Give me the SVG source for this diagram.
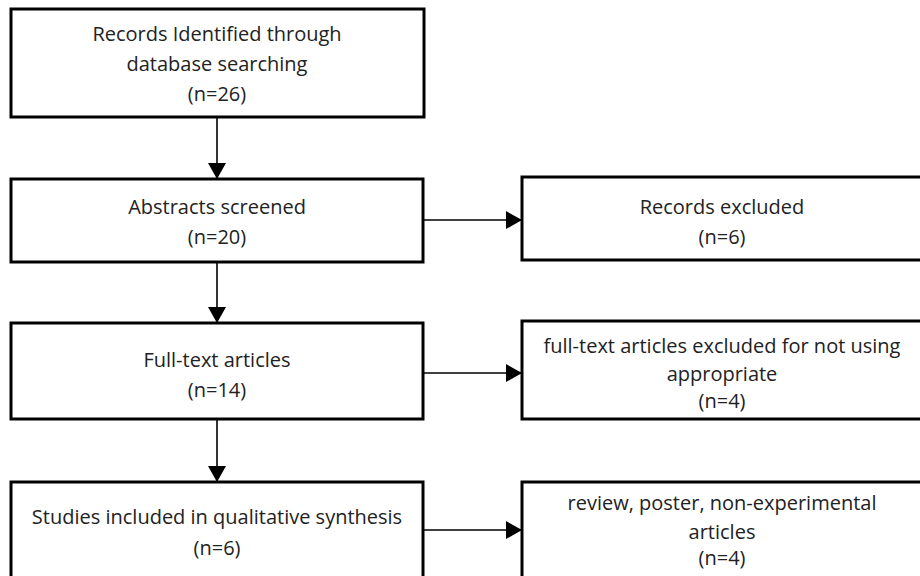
<svg xmlns="http://www.w3.org/2000/svg" width="920" height="576" viewBox="0 0 920 576">
  <style>
    .box { fill: #ffffff; stroke: #000000; stroke-width: 3; }
    .lbl { font-family: "Open Sans", "Liberation Sans", sans-serif; font-size: 20px; fill: #222222; text-anchor: middle; }
    .conn { stroke: #000000; stroke-width: 1.6; fill: none; }
  </style>
  <defs>
    <marker id="arr" markerUnits="userSpaceOnUse" markerWidth="17" markerHeight="18" refX="16" refY="9" orient="auto">
      <path d="M0,0 L16,9 L0,18 Z" fill="#000000"/>
    </marker>
  </defs>
  <rect width="920" height="576" fill="#ffffff"/>

  <g id="n1">
    <rect class="box" x="11" y="9" width="413" height="108"/>
    <text class="lbl" x="217" y="41">Records Identified through</text>
    <text class="lbl" x="217" y="71">database searching</text>
    <text class="lbl" x="217" y="101">(n=26)</text>
  </g>
  <g id="n2">
    <rect class="box" x="11" y="179" width="412" height="83"/>
    <text class="lbl" x="217" y="214">Abstracts screened</text>
    <text class="lbl" x="217" y="244">(n=20)</text>
  </g>
  <g id="n3">
    <rect class="box" x="522" y="177" width="402" height="83"/>
    <text class="lbl" x="722" y="214">Records excluded</text>
    <text class="lbl" x="722" y="244">(n=6)</text>
  </g>
  <g id="n4">
    <rect class="box" x="11" y="323" width="412" height="96"/>
    <text class="lbl" x="217" y="367">Full-text articles</text>
    <text class="lbl" x="217" y="397">(n=14)</text>
  </g>
  <g id="n5">
    <rect class="box" x="522" y="321" width="402" height="98"/>
    <text class="lbl" x="722" y="353">full-text articles excluded for not using</text>
    <text class="lbl" x="722" y="381">appropriate</text>
    <text class="lbl" x="722" y="408">(n=4)</text>
  </g>
  <g id="n6">
    <rect class="box" x="11" y="482" width="412" height="110"/>
    <text class="lbl" x="217" y="524">Studies included in qualitative synthesis</text>
    <text class="lbl" x="217" y="555">(n=6)</text>
  </g>
  <g id="n7">
    <rect class="box" x="522" y="482" width="402" height="110"/>
    <text class="lbl" x="722" y="510">review, poster, non-experimental</text>
    <text class="lbl" x="722" y="539">articles</text>
    <text class="lbl" x="722" y="565">(n=4)</text>
  </g>

  <g id="connectors">
    <line class="conn" x1="217" y1="118" x2="217" y2="179" marker-end="url(#arr)"/>
    <line class="conn" x1="217" y1="263" x2="217" y2="323" marker-end="url(#arr)"/>
    <line class="conn" x1="217" y1="420" x2="217" y2="482" marker-end="url(#arr)"/>
    <line class="conn" x1="424" y1="220" x2="522" y2="220" marker-end="url(#arr)"/>
    <line class="conn" x1="424" y1="373" x2="522" y2="373" marker-end="url(#arr)"/>
    <line class="conn" x1="424" y1="530" x2="522" y2="530" marker-end="url(#arr)"/>
  </g>
</svg>
